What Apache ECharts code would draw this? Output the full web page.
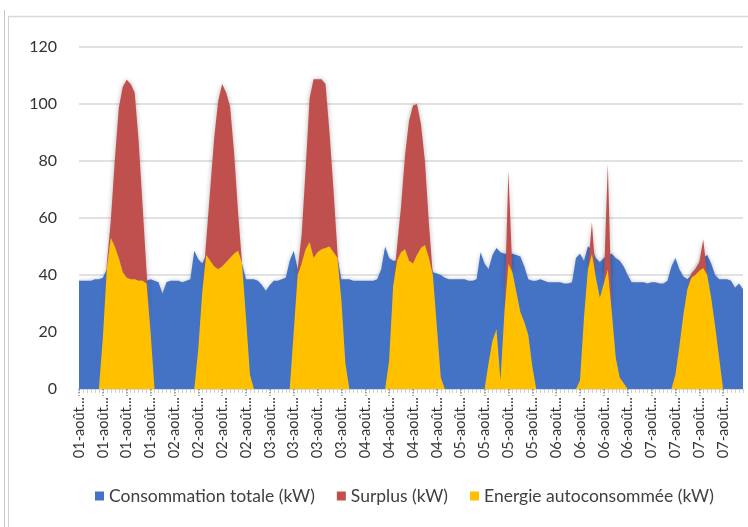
<!DOCTYPE html>
<html><head><meta charset="utf-8">
<script src="https://cdn.jsdelivr.net/npm/echarts@6/dist/echarts.min.js"></script>
<style>html,body{margin:0;padding:0;background:#fff}#c{width:748px;height:527px}</style>
</head><body><div id="c"></div>
<script>
const days = ['01-août','02-août','03-août','04-août','05-août','06-août','07-août'];
const hours = ['00:00','01:00','02:00','03:00','04:00','05:00','06:00','07:00','08:00','09:00','10:00','11:00','12:00','13:00','14:00','15:00','16:00','17:00','18:00','19:00','20:00','21:00','22:00','23:00'];
const yTicks = [0,20,40,60,80,100,120];

const consommation = [
 38,38,38,38,38.5,38.5,39,42,53,50,46,41,39,38.5,38.5,38,38,38,38.5,38,37.5,33.5,37.5,38,
 38,38,37.5,38,38.5,48.5,45.5,44,47,45,43,42,43,44.5,46,47.5,48.5,44,38.5,38.5,38.5,38,36.5,34.5,
 36.5,38,38,38.5,39,45,48.5,42,44,49,51.5,46,48,49,49.5,50,48,46,38.5,38.5,38.5,38,38,38,
 38,38,38,38.5,42,50,46,45,45,48,49,45,44,47,49.5,50.5,46,41,40.5,40,39,38.5,38.5,38.5,
 38.5,38.5,38,38,38.5,48,44,42,47,49.5,48,47.5,47.5,47.5,47,46.5,43,38.5,38,38,38.5,38,37.5,37.5,
 37.5,37.5,37,37,37.5,46,47.5,45,50,49,46,44.5,46,47,47.5,46,45,43,40,37.5,37.5,37.5,37.5,37,
 37.5,37.5,37,37,38,43,46,42,39.5,38.5,40,42,44,46,47,44,40,38.5,38.5,38.5,38,35.5,37,35
];
const autoconsommation = [
 0,0,0,0,0,0,18,42,53,50,46,41,39,38.5,38.5,38,38,37,20,0,0,0,0,0,
 0,0,0,0,0,0,14,34,47,45,43,42,43,44.5,46,47.5,48.5,44,25,5,0,0,0,0,
 0,0,0,0,0,0,20,40,44,49,51.5,46,48,49,49.5,50,48,46,31,9,0,0,0,0,
 0,0,0,0,0,0,10,36,45,48,49,45,44,47,49.5,50.5,46,40,22,4,0,0,0,0,
 0,0,0,0,0,0,0,9,17,21,3,27,44,41,34,27,23.5,19,8,0,0,0,0,0,
 0,0,0,0,0,0,3,25,42,47.5,39,32,37,42,27,11,4,2,0,0,0,0,0,0,
 0,0,0,0,0,0,5,15,26,35,39,40,41.5,42.5,40,32,22,11,0,0,0,0,0,0
];
const surplus = [
 0,0,0,0,0,0,0,2,6,30,52.5,65,69.5,68.5,65.5,49,26,4,0,0,0,0,0,0,
 0,0,0,0,0,0,0,0,5,25,45,59,64,59.5,53,35.5,13.5,0,0,0,0,0,0,0,
 0,0,0,0,0,0,0,2,10,28,50.5,62.7,60.7,59.7,57.5,40,22,2,0,0,0,0,0,0,
 0,0,0,0,0,0,0,0,5,16,33,49,55.5,53,43.5,29.5,12,0,0,0,0,0,0,0,
 0,0,0,0,0,0,0,0,0,0,0,0,32.5,0,0,0,0,0,0,0,0,0,0,0,
 0,0,0,0,0,0,0,0,0,11,0,0,0,37,0,0,0,0,0,0,0,0,0,0,
 0,0,0,0,0,0,0,0,0,0,1.5,2,3,10,0,0,0,0,0,0,0,0,0,0
];

const categories = [];
days.forEach(d => hours.forEach(h => categories.push(d + ' ' + h)));

const FONT = 'Lato';
const chart = echarts.init(document.getElementById('c'), null, {renderer: 'canvas'});
chart.setOption({
  backgroundColor: '#fff',
  animation: false,
  grid: {left: 79, right: 5, top: 47, bottom: 138, containLabel: false},
  legend: {
    data: ['Consommation totale (kW)', 'Surplus (kW)', 'Energie autoconsommée (kW)'],
    left: 90, top: 482, width: 656, icon: 'rect', itemWidth: 9, itemHeight: 9, itemGap: 22,
    textStyle: {fontFamily: FONT, fontSize: 17.5, color: '#404040'}
  },
  xAxis: [{
    type: 'category', data: categories, boundaryGap: false,
    axisLine: {lineStyle: {color: '#d9d9d9'}},
    axisTick: {interval: 0, length: 4, lineStyle: {color: '#cfcfcf'}},
    axisLabel: {interval: 5, rotate: 90, margin: 8, fontFamily: FONT, fontSize: 14.5, color: '#333',
      formatter: v => v.split(' ')[0] + '...'}
  }, {
    type: 'category', data: categories, boundaryGap: false, position: 'bottom',
    axisLine: {show: false},
    axisTick: {interval: 5, length: 7, lineStyle: {color: '#8c8c8c', type: 'dotted', width: 1.5}},
    axisLabel: {show: false}
  }],
  yAxis: {
    type: 'value', min: yTicks[0], max: yTicks[yTicks.length - 1], interval: 20,
    axisLine: {show: false}, axisTick: {show: false},
    axisLabel: {margin: 22, fontFamily: FONT, fontSize: 16, color: '#333'},
    splitLine: {lineStyle: {color: '#d9d9d9', width: 1.5}}
  },
  graphic: [
    {type: 'line', shape: {x1: 4.5, y1: 10, x2: 4.5, y2: 527}, style: {stroke: '#c8c8c8', lineWidth: 1}},
    {type: 'line', shape: {x1: 8.5, y1: 16, x2: 8.5, y2: 527}, style: {stroke: '#d0d0d0', lineWidth: 1}},
    {type: 'line', shape: {x1: 8.5, y1: 16.5, x2: 748, y2: 16.5}, style: {stroke: '#d9d9d9', lineWidth: 1.5}}
  ],
  series: [
    {name: 'Consommation totale (kW)', type: 'line', data: consommation, showSymbol: false, z: 1,
     lineStyle: {width: 0}, itemStyle: {color: '#4472C4'},
     areaStyle: {color: '#4472C4', opacity: 1, shadowBlur: 4, shadowColor: 'rgba(0,0,0,0.25)'}},
    {name: 'Energie autoconsommée (kW)', type: 'line', stack: 'prod', data: autoconsommation, showSymbol: false, z: 3,
     lineStyle: {width: 0}, itemStyle: {color: '#FFC000'},
     areaStyle: {color: '#FFC000', opacity: 1}},
    {name: 'Surplus (kW)', type: 'line', stack: 'prod', data: surplus, showSymbol: false, z: 2,
     lineStyle: {width: 0}, itemStyle: {color: '#C0504D'},
     areaStyle: {color: '#C0504D', opacity: 1, shadowBlur: 5, shadowColor: 'rgba(0,0,0,0.3)'}}
  ]
});
</script></body></html>
